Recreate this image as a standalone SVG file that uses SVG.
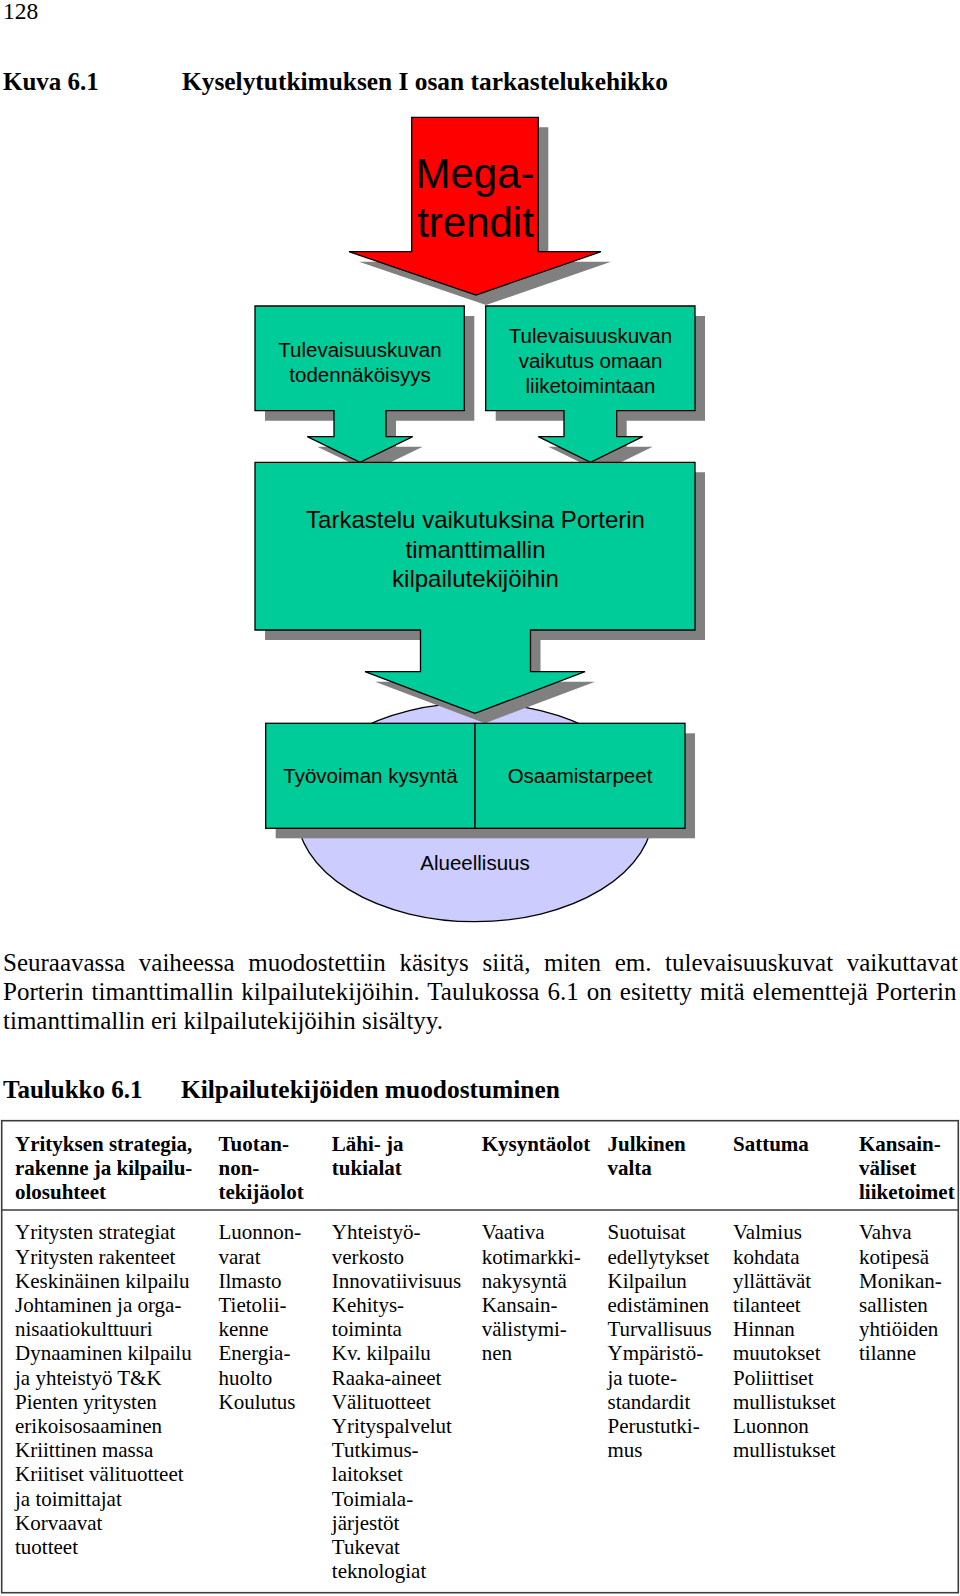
<svg xmlns="http://www.w3.org/2000/svg" width="960" height="1596" viewBox="0 0 960 1596">
<style>
.serif{font-family:"Liberation Serif","Times New Roman",serif;fill:#000}
.b{font-weight:bold}
.p25{font-size:25px}
.h25{font-size:25.4px}
.sans{font-family:"Liberation Sans",Arial,sans-serif;fill:#000;text-anchor:middle}
.f20{font-size:20.5px}
.f24{font-size:24px}
.shape{stroke:#000;stroke-width:1.3;stroke-linejoin:miter}
.green{fill:#00CC99}
.red{fill:#FF0000}
.shadow{fill:#808080;stroke:none}
.tb{font-family:"Liberation Serif","Times New Roman",serif;font-size:21px;fill:#000}
.border{stroke:#3c3c3c;stroke-width:1.6;fill:none}
</style>
<defs>
<path id="megaShape" d="M411.7,117.3 H538.3 V251.7 H601 L476,295 L349,251.7 H411.7 Z"/>
<path id="leftShape" d="M255,306 H464.3 V410.7 H386 V436.7 H412.7 L360,462.3 L307.3,436.7 H334 V410.7 H255 Z"/>
<path id="rightShape" d="M485.7,306 H695 V410.7 H616.7 V436.7 H642.7 L590.5,462.3 L538.3,436.7 H564 V410.7 H485.7 Z"/>
<path id="bigShape" d="M255,462.3 H695 V630 H530.5 V671.7 H585 L475,713.3 L365,671.7 H420.5 V630 H255 Z"/>
</defs>
<rect x="0" y="0" width="960" height="1596" fill="#fff"/>

<g id="page-text">
<text class="serif" x="3" y="18.5" font-size="23.5">128</text>
<text class="serif b p25" x="3" y="90">Kuva 6.1</text>
<text class="serif b h25" x="182" y="90">Kyselytutkimuksen I osan tarkastelukehikko</text>
<text class="serif p25" x="3" y="971" word-spacing="7.4">Seuraavassa vaiheessa muodostettiin käsitys siitä, miten em. tulevaisuuskuvat vaikuttavat</text>
<text class="serif p25" x="3" y="1000" word-spacing="1.8">Porterin timanttimallin kilpailutekijöihin. Taulukossa 6.1 on esitetty mitä elementtejä Porterin</text>
<text class="serif p25" x="3" y="1028.5">timanttimallin eri kilpailutekijöihin sisältyy.</text>
<text class="serif b p25" x="3" y="1097.5">Taulukko 6.1</text>
<text class="serif b h25" x="181" y="1097.5">Kilpailutekijöiden muodostuminen</text>
</g>

<g id="connectors"></g>

<g id="node-megatrendit">
<use href="#megaShape" class="shadow" transform="translate(10,10)"/>
<use href="#megaShape" class="shape red"/>
<text class="sans" font-size="42" x="475" y="188.3">Mega-</text>
<text class="sans" font-size="42" x="475.5" y="237.3">trendit</text>
</g>

<g id="node-todennakoisyys">
<use href="#leftShape" class="shadow" transform="translate(10,10)"/>
<use href="#leftShape" class="shape green"/>
<text class="sans f20" x="360" y="356.7">Tulevaisuuskuvan</text>
<text class="sans f20" x="360" y="381.7">todennäköisyys</text>
</g>

<g id="node-vaikutus">
<use href="#rightShape" class="shadow" transform="translate(10,10)"/>
<use href="#rightShape" class="shape green"/>
<text class="sans f20" x="590.5" y="343.3">Tulevaisuuskuvan</text>
<text class="sans f20" x="590.5" y="368.3">vaikutus omaan</text>
<text class="sans f20" x="590.5" y="393.3">liiketoimintaan</text>
</g>

<g id="node-alueellisuus">
<ellipse cx="475" cy="812.3" rx="178.3" ry="109.4" fill="#CCCCFF" stroke="#000" stroke-width="1.3"/>
<text class="sans f20" x="475" y="870">Alueellisuus</text>
</g>

<g id="node-tarkastelu">
<use href="#bigShape" class="shadow" transform="translate(10,10)"/>
<use href="#bigShape" class="shape green"/>
<text class="sans f24" x="475.5" y="527.7">Tarkastelu vaikutuksina Porterin</text>
<text class="sans f24" x="475.5" y="557.7">timanttimallin</text>
<text class="sans f24" x="475.5" y="586.7">kilpailutekijöihin</text>
</g>

<g id="bottom-shadow">
<rect x="275.7" y="733.3" width="419.3" height="105" class="shadow"/>
</g>

<g id="node-tyovoiman-kysynta">
<rect x="265.7" y="723.3" width="209.3" height="105" class="shape green"/>
<text class="sans f20" x="370.5" y="783.3">Työvoiman kysyntä</text>
</g>

<g id="node-osaamistarpeet">
<rect x="475" y="723.3" width="210" height="105" class="shape green"/>
<text class="sans f20" x="580" y="783.3">Osaamistarpeet</text>
</g>

<g id="table">
<rect x="1.7" y="1120.7" width="956.6" height="472" class="border"/>
<line x1="1.7" y1="1210" x2="958.3" y2="1210" class="border"/>
<g class="tb" font-weight="bold">
<text x="15" y="1151"><tspan x="15">Yrityksen strategia,</tspan><tspan x="15" dy="24.2">rakenne ja kilpailu-</tspan><tspan x="15" dy="24.2">olosuhteet</tspan></text>
<text x="218.5" y="1151"><tspan x="218.5">Tuotan-</tspan><tspan x="218.5" dy="24.2">non-</tspan><tspan x="218.5" dy="24.2">tekijäolot</tspan></text>
<text x="331.8" y="1151"><tspan x="331.8">Lähi- ja</tspan><tspan x="331.8" dy="24.2">tukialat</tspan></text>
<text x="481.7" y="1151">Kysyntäolot</text>
<text x="607.5" y="1151"><tspan x="607.5">Julkinen</tspan><tspan x="607.5" dy="24.2">valta</tspan></text>
<text x="733" y="1151">Sattuma</text>
<text x="859" y="1151"><tspan x="859">Kansain-</tspan><tspan x="859" dy="24.2">väliset</tspan><tspan x="859" dy="24.2">liiketoimet</tspan></text>
</g>
<g class="tb">
<text x="15" y="1239.3"><tspan x="15">Yritysten strategiat</tspan><tspan x="15" dy="24.2">Yritysten rakenteet</tspan><tspan x="15" dy="24.2">Keskinäinen kilpailu</tspan><tspan x="15" dy="24.2">Johtaminen ja orga-</tspan><tspan x="15" dy="24.2">nisaatiokulttuuri</tspan><tspan x="15" dy="24.2">Dynaaminen kilpailu</tspan><tspan x="15" dy="24.2">ja yhteistyö T&amp;K</tspan><tspan x="15" dy="24.2">Pienten yritysten</tspan><tspan x="15" dy="24.2">erikoisosaaminen</tspan><tspan x="15" dy="24.2">Kriittinen massa</tspan><tspan x="15" dy="24.2">Kriitiset välituotteet</tspan><tspan x="15" dy="24.2">ja toimittajat</tspan><tspan x="15" dy="24.2">Korvaavat</tspan><tspan x="15" dy="24.2">tuotteet</tspan></text>
<text x="218.5" y="1239.3"><tspan x="218.5">Luonnon-</tspan><tspan x="218.5" dy="24.2">varat</tspan><tspan x="218.5" dy="24.2">Ilmasto</tspan><tspan x="218.5" dy="24.2">Tietolii-</tspan><tspan x="218.5" dy="24.2">kenne</tspan><tspan x="218.5" dy="24.2">Energia-</tspan><tspan x="218.5" dy="24.2">huolto</tspan><tspan x="218.5" dy="24.2">Koulutus</tspan></text>
<text x="331.8" y="1239.3"><tspan x="331.8">Yhteistyö-</tspan><tspan x="331.8" dy="24.2">verkosto</tspan><tspan x="331.8" dy="24.2">Innovatiivisuus</tspan><tspan x="331.8" dy="24.2">Kehitys-</tspan><tspan x="331.8" dy="24.2">toiminta</tspan><tspan x="331.8" dy="24.2">Kv. kilpailu</tspan><tspan x="331.8" dy="24.2">Raaka-aineet</tspan><tspan x="331.8" dy="24.2">Välituotteet</tspan><tspan x="331.8" dy="24.2">Yrityspalvelut</tspan><tspan x="331.8" dy="24.2">Tutkimus-</tspan><tspan x="331.8" dy="24.2">laitokset</tspan><tspan x="331.8" dy="24.2">Toimiala-</tspan><tspan x="331.8" dy="24.2">järjestöt</tspan><tspan x="331.8" dy="24.2">Tukevat</tspan><tspan x="331.8" dy="24.2">teknologiat</tspan></text>
<text x="481.7" y="1239.3"><tspan x="481.7">Vaativa</tspan><tspan x="481.7" dy="24.2">kotimarkki-</tspan><tspan x="481.7" dy="24.2">nakysyntä</tspan><tspan x="481.7" dy="24.2">Kansain-</tspan><tspan x="481.7" dy="24.2">välistymi-</tspan><tspan x="481.7" dy="24.2">nen</tspan></text>
<text x="607.5" y="1239.3"><tspan x="607.5">Suotuisat</tspan><tspan x="607.5" dy="24.2">edellytykset</tspan><tspan x="607.5" dy="24.2">Kilpailun</tspan><tspan x="607.5" dy="24.2">edistäminen</tspan><tspan x="607.5" dy="24.2">Turvallisuus</tspan><tspan x="607.5" dy="24.2">Ympäristö-</tspan><tspan x="607.5" dy="24.2">ja tuote-</tspan><tspan x="607.5" dy="24.2">standardit</tspan><tspan x="607.5" dy="24.2">Perustutki-</tspan><tspan x="607.5" dy="24.2">mus</tspan></text>
<text x="733" y="1239.3"><tspan x="733">Valmius</tspan><tspan x="733" dy="24.2">kohdata</tspan><tspan x="733" dy="24.2">yllättävät</tspan><tspan x="733" dy="24.2">tilanteet</tspan><tspan x="733" dy="24.2">Hinnan</tspan><tspan x="733" dy="24.2">muutokset</tspan><tspan x="733" dy="24.2">Poliittiset</tspan><tspan x="733" dy="24.2">mullistukset</tspan><tspan x="733" dy="24.2">Luonnon</tspan><tspan x="733" dy="24.2">mullistukset</tspan></text>
<text x="859" y="1239.3"><tspan x="859">Vahva</tspan><tspan x="859" dy="24.2">kotipesä</tspan><tspan x="859" dy="24.2">Monikan-</tspan><tspan x="859" dy="24.2">sallisten</tspan><tspan x="859" dy="24.2">yhtiöiden</tspan><tspan x="859" dy="24.2">tilanne</tspan></text>
</g>
</g>
</svg>
